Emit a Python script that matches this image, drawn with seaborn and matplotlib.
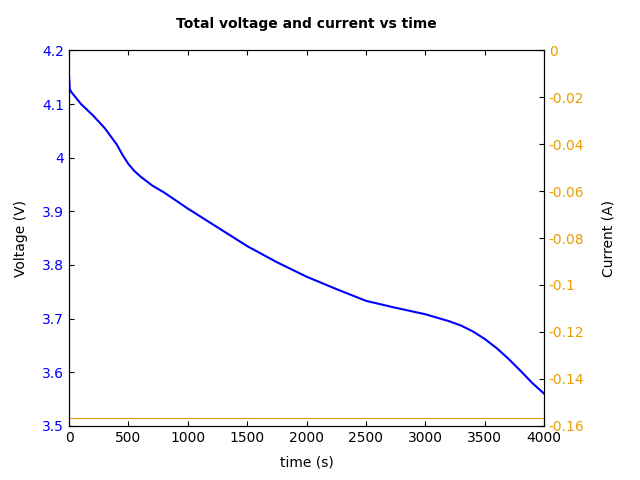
import matplotlib
matplotlib.use("Agg")
import matplotlib.pyplot as plt
import seaborn as sns
import pandas as pd

time_s = [0, 5, 20, 100, 200, 300, 400, 450, 500, 550, 600, 700, 800, 1000, 1250, 1500, 1750, 2000, 2250, 2500, 2750, 3000, 3200, 3300, 3400, 3500, 3600, 3700, 3800, 3900, 4000]
voltage = [4.15, 4.128, 4.122, 4.1, 4.079, 4.055, 4.025, 4.005, 3.988, 3.975, 3.965, 3.948, 3.935, 3.905, 3.87, 3.835, 3.805, 3.778, 3.755, 3.733, 3.72, 3.708, 3.695, 3.687, 3.676, 3.662, 3.645, 3.625, 3.603, 3.58, 3.56]
current_t = [0, 4000]
current = [-0.1565, -0.1565]

df_v = pd.DataFrame({"t": time_s, "v": voltage})
df_c = pd.DataFrame({"t": current_t, "c": current})

fig, ax = plt.subplots(figsize=(6.4, 4.8), dpi=100)
fig.subplots_adjust(left=0.108, right=0.85, top=0.895, bottom=0.113)
ax2 = ax.twinx()
sns.lineplot(data=df_c, x="t", y="c", ax=ax2, color="#e69f00", linewidth=0.8)
sns.lineplot(data=df_v, x="t", y="v", ax=ax, color="blue", linewidth=1.5)
ax.set_zorder(ax2.get_zorder() + 1)
ax.patch.set_visible(False)

ax.set_xlim(0, 4000)
ax.set_ylim(3.5, 4.2)
ax2.set_ylim(-0.16, 0)
ax.set_xticks([0, 500, 1000, 1500, 2000, 2500, 3000, 3500, 4000])
ax.set_yticks([3.5, 3.6, 3.7, 3.8, 3.9, 4.0, 4.1, 4.2])
ax.set_yticklabels(["3.5", "3.6", "3.7", "3.8", "3.9", "4", "4.1", "4.2"])
ax2.set_yticks([0, -0.02, -0.04, -0.06, -0.08, -0.1, -0.12, -0.14, -0.16])
ax2.set_yticklabels(["0", "-0.02", "-0.04", "-0.06", "-0.08", "-0.1", "-0.12", "-0.14", "-0.16"])
ax.tick_params(axis="both", direction="in", top=True, labelsize=10)
ax.tick_params(axis="y", labelcolor="blue")
ax2.tick_params(axis="y", direction="in", labelcolor="#e69f00", labelsize=10)
ax.set_xlabel("time (s)", labelpad=8)
ax.set_ylabel("Voltage (V)", labelpad=10)
ax2.set_ylabel("Current (A)", labelpad=12)
ax.set_title("Total voltage and current vs time", fontweight="bold", fontsize=10, pad=16)
fig.savefig("out.png", dpi=100)
